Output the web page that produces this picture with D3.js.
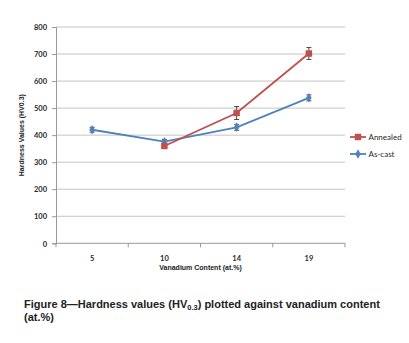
<!DOCTYPE html>
<html>
<head>
<meta charset="utf-8">
<script src="https://cdn.jsdelivr.net/npm/d3@7"></script>
<style>
	body { margin: 0; background: #fff; }
	svg { display: block; }
</style>
</head>
<body>
<svg></svg>
<script>
const categories = ['5', '10', '14', '19'];
const yTicks = [0, 100, 200, 300, 400, 500, 600, 700, 800];
const annealed = [null, 360, 482, 702];
const annealedErr = [null, 6, 24, 22];
const asCast = [420, 376, 429, 538];
const asCastErr = [9, 8, 11, 11];

const width = 409;
const height = 343;
const margin = { top: 27, left: 56, right: 64, bottom: 100 };
const innerWidth = 345 - margin.left;
const innerHeight = 243.3 - margin.top;
const chartFont = "Lato, 'Liberation Sans', sans-serif";
const titleFont = "'Liberation Sans', Arial, sans-serif";
const textColor = '#2a2a2a';

const svg = d3.select('svg')
	.attr('width', width)
	.attr('height', height);

const g = svg.append('g')
	.attr('transform', `translate(${margin.left},${margin.top})`)
	.attr('font-family', chartFont);

const xScale = d3.scaleBand()
	.domain(categories)
	.range([0, innerWidth]);

const yScale = d3.scaleLinear()
	.domain([0, 800])
	.range([innerHeight, 0]);

// gridlines
g.selectAll('line.grid').data(yTicks).enter()
	.append('line')
		.attr('class', 'grid')
		.attr('x1', 0)
		.attr('x2', innerWidth)
		.attr('y1', d => yScale(d))
		.attr('y2', d => yScale(d))
		.attr('stroke', d => d === 0 ? '#999' : '#c4c4c4')
		.attr('stroke-width', 1);

const yAxis = d3.axisLeft(yScale)
	.tickValues(yTicks)
	.tickSize(4)
	.tickPadding(5);
const yAxisG = g.append('g').call(yAxis)
	.attr('fill', null)
	.attr('font-family', chartFont)
	.attr('font-size', 7.5);
yAxisG.select('.domain').attr('stroke', '#999').attr('fill', 'none');
yAxisG.selectAll('.tick line').attr('stroke', '#999');
yAxisG.selectAll('.tick text')
	.attr('dy', null)
	.attr('y', 2.7)
	.attr('fill', textColor)
	.attr('font-weight', 'bold');

const xAxisG = g.append('g')
	.attr('transform', `translate(0,${innerHeight})`)
	.call(d3.axisBottom(xScale).tickSize(0).tickPadding(12))
	.attr('fill', null)
	.attr('font-family', chartFont)
	.attr('font-size', 7.5);
xAxisG.select('.domain').remove();
xAxisG.selectAll('.tick text')
	.attr('dy', null)
	.attr('y', 17.5)
	.attr('fill', textColor)
	.attr('font-weight', 'bold');

// category boundary ticks
const bounds = categories.map(c => xScale(c)).concat([innerWidth]);
g.selectAll('line.xtick').data(bounds).enter()
	.append('line')
		.attr('x1', d => d)
		.attr('x2', d => d)
		.attr('y1', innerHeight)
		.attr('y2', innerHeight + 4)
		.attr('stroke', '#999');

g.append('text')
	.attr('x', innerWidth / 2)
	.attr('y', innerHeight + 27)
	.attr('text-anchor', 'middle')
	.attr('font-family', titleFont)
	.attr('font-size', 7)
	.attr('font-weight', 'bold')
	.attr('fill', '#222')
	.text('Vanadium Content (at.%)');

g.append('text')
	.attr('transform', 'rotate(-90)')
	.attr('x', -innerHeight / 2)
	.attr('y', -32)
	.attr('text-anchor', 'middle')
	.attr('font-family', titleFont)
	.attr('font-size', 7)
	.attr('font-weight', 'bold')
	.attr('fill', '#222')
	.text('Hardness Values (HV0.3)');

const series = [
	{ name: 'Annealed', values: annealed, err: annealedErr, color: '#c0504d', marker: d3.symbolSquare, size: 42 },
	{ name: 'As-cast', values: asCast, err: asCastErr, color: '#4f81bd', marker: d3.symbolDiamond, size: 26 }
];

const cx = c => xScale(c) + xScale.bandwidth() / 2;

series.slice().reverse().forEach(s => {
	const pts = categories.map((c, i) => ({ c, v: s.values[i], e: s.err[i] })).filter(d => d.v !== null);
	const line = d3.line().x(d => cx(d.c)).y(d => yScale(d.v));
	g.append('path')
		.datum(pts)
		.attr('d', line)
		.attr('fill', 'none')
		.attr('stroke', s.color)
		.attr('stroke-width', 1.8);

	const eb = g.append('g');
	pts.forEach(d => {
		const x = cx(d.c);
		eb.append('line').attr('x1', x).attr('x2', x)
			.attr('y1', yScale(d.v - d.e)).attr('y2', yScale(d.v + d.e))
			.attr('stroke', '#222').attr('stroke-width', 0.8);
		[d.v - d.e, d.v + d.e].forEach(v => {
			eb.append('line').attr('x1', x - 2.5).attr('x2', x + 2.5)
				.attr('y1', yScale(v)).attr('y2', yScale(v))
				.attr('stroke', '#222').attr('stroke-width', 0.8);
		});
	});

	g.selectAll(null).data(pts).enter()
		.append('path')
			.attr('d', d3.symbol().type(s.marker).size(s.size))
			.attr('transform', d => `translate(${cx(d.c)},${yScale(d.v)})`)
			.attr('fill', s.color);
});

// legend
const legend = svg.append('g')
	.attr('transform', 'translate(350,137)')
	.attr('font-family', chartFont);
series.forEach((s, i) => {
	const lg = legend.append('g').attr('transform', `translate(0,${i * 17})`);
	lg.append('line').attr('x1', 0).attr('x2', 16)
		.attr('stroke', s.color).attr('stroke-width', 1.8);
	lg.append('path')
		.attr('d', d3.symbol().type(s.marker).size(s.size))
		.attr('transform', 'translate(8,0)')
		.attr('fill', s.color);
	lg.append('text')
		.attr('x', 18.5)
		.attr('y', 2.8)
		.attr('font-size', 8)
		.attr('fill', textColor)
		.text(s.name);
});

// caption
const cap = svg.append('text')
	.attr('x', 24)
	.attr('y', 307.5)
	.attr('font-family', titleFont)
	.attr('font-size', 11)
	.attr('font-weight', 'bold')
	.attr('fill', '#222');
cap.append('tspan').text('Figure 8\u2014Hardness values (HV');
cap.append('tspan').attr('font-size', 7.5).attr('dy', 2).text('0.3');
cap.append('tspan').attr('dy', -2).text(') plotted against vanadium content');
svg.append('text')
	.attr('x', 24)
	.attr('y', 321)
	.attr('font-family', titleFont)
	.attr('font-size', 11)
	.attr('font-weight', 'bold')
	.attr('fill', '#222')
	.text('(at.%)');
</script>
</body>
</html>
